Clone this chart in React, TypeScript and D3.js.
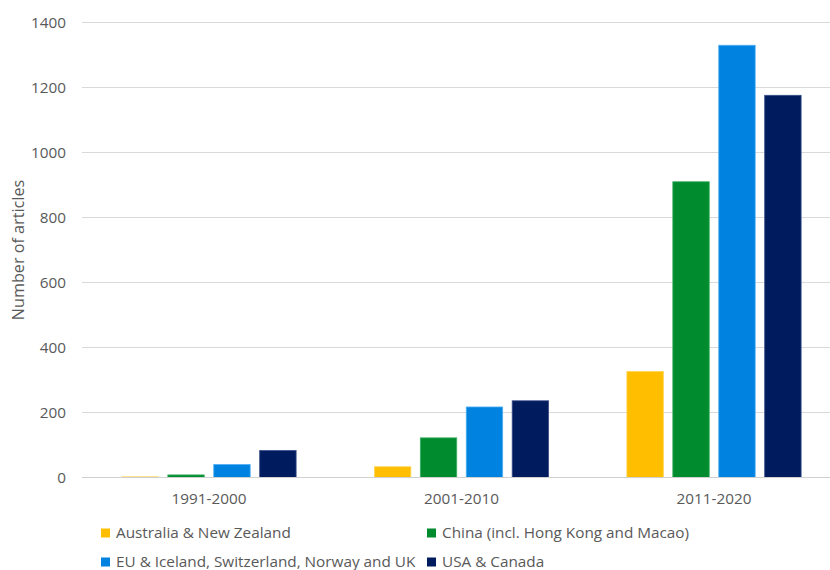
import React from "react";
import * as d3 from "d3";

const categories = ["1991-2000", "2001-2010", "2011-2020"];
const seriesNames = [
  "Australia & New Zealand",
  "China (incl. Hong Kong and Macao)",
  "EU & Iceland, Switzerland, Norway and UK",
  "USA & Canada",
];
const australia = [2, 33, 326];
const china = [8, 122, 910];
const eu = [40, 217, 1330];
const usa = [83, 236, 1176];
const yTicks = [0, 200, 400, 600, 800, 1000, 1200, 1400];
const colors = ["#FFBF00", "#008C2E", "#0082E0", "#001B5E"];
const strokes = ["#FFD34D", "#3DB064", "#4FB0F5", "#3A4E8A"];

const W = 830;
const H = 570;
const font = "'Open Sans', sans-serif";
const textColor = "#595959";

export default function App() {
  const values = [australia, china, eu, usa];
  const x0 = d3.scaleBand<string>().domain(categories).range([82.75, 840.25]).padding(0);
  const inner = x0.bandwidth();
  const x1 = d3
    .scaleBand<number>()
    .domain([0, 1, 2, 3])
    .range([inner * 0.155, inner * 0.845])
    .paddingInner(0.207)
    .paddingOuter(0);
  const y = d3.scaleLinear().domain([0, 1400]).range([477.5, 22.5]);

  return (
    <svg width={W} height={H} style={{ position: "absolute", left: 0, top: 0, background: "#fff" }}>
      {yTicks.map((t) => (
        <g key={t}>
          <line x1={82} x2={W} y1={y(t)} y2={y(t)} stroke="#d9d9d9" strokeWidth={1} />
          <text x={66} y={y(t)} dy="0.35em" textAnchor="end" fontFamily={font} fontSize={15.3} fill={textColor}>
            {t}
          </text>
        </g>
      ))}
      {categories.map((c, ci) => (
        <g key={c} transform={`translate(${x0(c)},0)`}>
          {values.map((arr, si) => (
            <rect
              key={si}
              x={x1(si)}
              width={x1.bandwidth()}
              y={y(arr[ci])}
              height={y(0) - y(arr[ci])}
              fill={colors[si]}
              stroke={strokes[si]}
              strokeWidth={0.8}
            />
          ))}
          <text
            x={inner / 2}
            y={499}
            dy="0.35em"
            textAnchor="middle"
            fontFamily={font}
            fontSize={15.3}
            fill={textColor}
          >
            {c}
          </text>
        </g>
      ))}
      <line x1={82} x2={W} y1={y(0)} y2={y(0)} stroke="#d0d0d0" strokeWidth={1.2} />
      <text
        transform={`translate(18,${250}) rotate(-90)`}
        textAnchor="middle"
        dy="0.35em"
        fontFamily={font}
        fontSize={16.2}
        fill={textColor}
      >
        Number of articles
      </text>
      {seriesNames.map((s, i) => {
        const lx = i % 2 === 0 ? 101 : 427;
        const ly = i < 2 ? 533 : 562;
        return (
          <g key={s}>
            <rect x={lx} y={ly - 4.5} width={9} height={9} fill={colors[i]} />
            <text x={lx + 15} y={ly} dy="0.35em" fontFamily={font} fontSize={15.3} fill={textColor}>
              {s}
            </text>
          </g>
        );
      })}
    </svg>
  );
}
